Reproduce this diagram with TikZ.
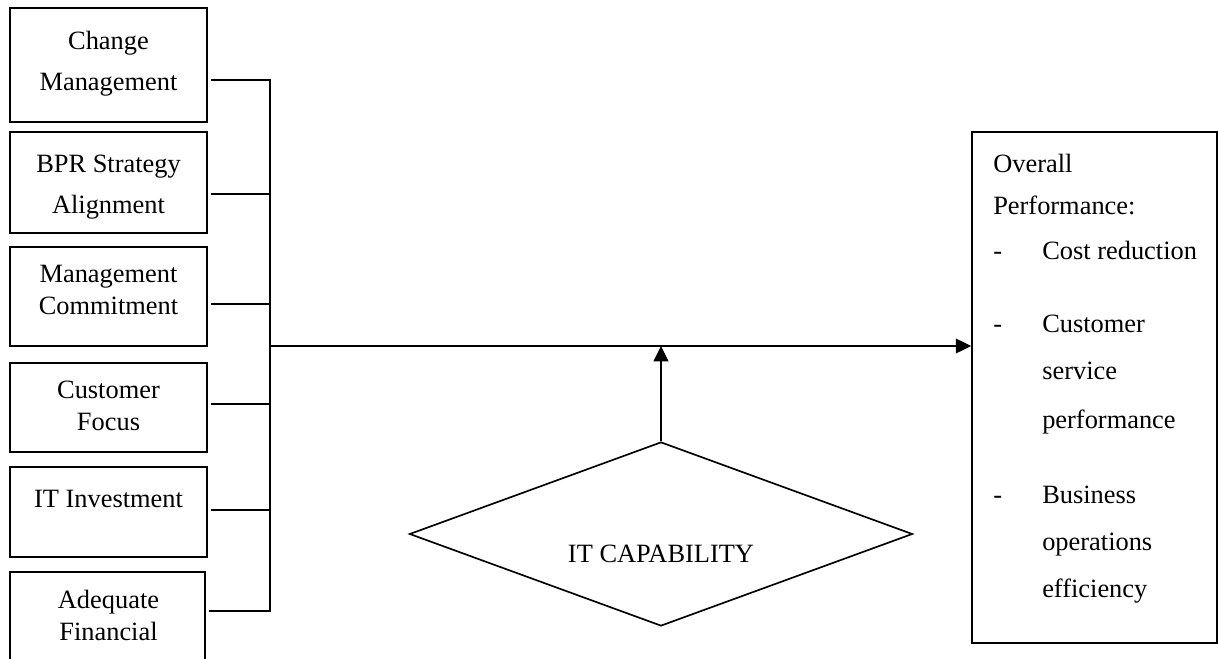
\documentclass[tikz,border=0pt]{standalone}
\usepackage{fontspec}
\setmainfont{Liberation Serif}
\usetikzlibrary{arrows.meta,shapes.geometric,calc}
\begin{document}
\begin{tikzpicture}[x=0.75pt,y=-0.75pt,
  ln/.style={line width=1.25pt},
  box/.style={draw,line width=1.25pt,inner sep=0pt,minimum width=197*0.75pt},
  lbl/.style={font=\fontsize{19.8}{24}\selectfont,inner sep=0pt,anchor=base},
  lbll/.style={lbl,anchor=base west},
  arr/.style={ln,-{Triangle[length=11.5pt,width=11pt]}}]
\clip (0,0) rectangle (1218,659);
\fill[white] (0,0) rectangle (1218,659);
% left boxes
\node[box,minimum height=114*0.75pt] (b1) at (108.5,65) {};
\node[box,minimum height=101*0.75pt] (b2) at (108.5,182.5) {};
\node[box,minimum height=99*0.75pt] (b3) at (108.5,296.5) {};
\node[box,minimum height=89*0.75pt] (b4) at (108.5,407.5) {};
\node[box,minimum height=90*0.75pt] (b5) at (108.5,512) {};
\node[box,minimum height=140*0.75pt,minimum width=195*0.75pt] (b6) at (107.5,642) {};
\node[lbl] (t1a) at (108.5,50) {Change};
\node[lbl] (t1b) at (108.5,91) {Management};
\node[lbl] (t2a) at (108.5,173) {BPR Strategy};
\node[lbl] (t2b) at (108.5,214) {Alignment};
\node[lbl] (t3a) at (108.5,283) {Management};
\node[lbl] (t3b) at (108.5,315) {Commitment};
\node[lbl] (t4a) at (108.5,398) {Customer};
\node[lbl] (t4b) at (108.5,431) {Focus};
\node[lbl] (t5a) at (108.5,507) {IT Investment};
\node[lbl] (t6a) at (108.5,608) {Adequate};
\node[lbl] (t6b) at (108.5,640) {Financial};
% junction coordinates
\coordinate (j1) at (270,80);
\coordinate (j2) at (270,194);
\coordinate (j3) at (270,304);
\coordinate (j4) at (270,404);
\coordinate (j5) at (270,510);
\coordinate (j6) at (270,611);
\coordinate (jm) at (270,346);
\draw[ln] ($(b1.east |- j1)+(3,0)$) -- (j1) -- (j6) -- ($(b6.east |- j6)+(3,0)$);
\draw[ln] ($(b2.east |- j2)+(3,0)$) -- (j2);
\draw[ln] ($(b3.east |- j3)+(3,0)$) -- (j3);
\draw[ln] ($(b4.east |- j4)+(3,0)$) -- (j4);
\draw[ln] ($(b5.east |- j5)+(3,0)$) -- (j5);
% right box
\node[draw,line width=1.25pt,inner sep=0pt,minimum width=245*0.75pt,minimum height=511*0.75pt] (perf) at (1094.5,387.5) {};
\node[lbll] (r1) at (993,173) {Overall};
\node[lbll] (r2) at (993,215) {Performance:};
\node[lbll] (d1) at (993,260) {-};
\node[lbll] (r3) at (1042,260) {Cost reduction};
\node[lbll] (d2) at (993,333) {-};
\node[lbll] (r4) at (1042,333) {Customer};
\node[lbll] (r5) at (1042,380) {service};
\node[lbll] (r6) at (1042,428) {performance};
\node[lbll] (d3) at (993,503) {-};
\node[lbll] (r7) at (1042,503) {Business};
\node[lbll] (r8) at (1042,550) {operations};
\node[lbll] (r9) at (1042,597) {efficiency};
% main arrow
\draw[arr] (jm) -- (perf.west |- jm);
% diamond
\node[draw,line width=1.25pt,diamond,inner sep=0pt,minimum width=503*0.75pt,minimum height=184*0.75pt] (dia) at (661,534) {};
\node[lbl] (dt) at (661,562) {IT CAPABILITY};
\draw[arr] (dia.north) -- (dia.north |- jm);
\end{tikzpicture}
\end{document}
